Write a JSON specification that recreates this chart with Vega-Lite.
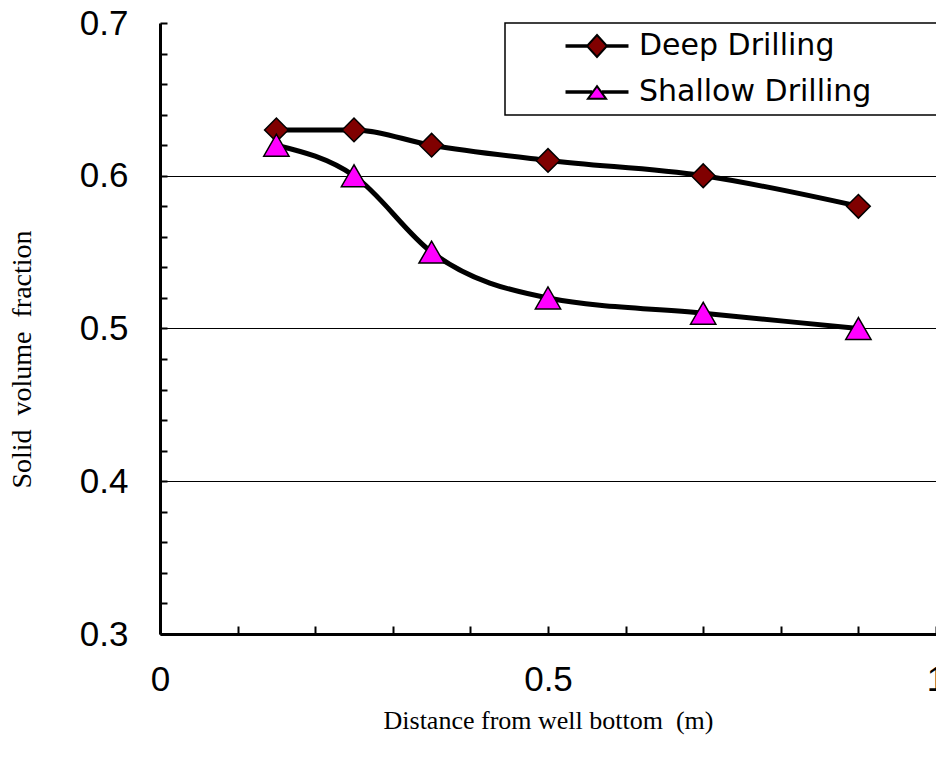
{
  "$schema": "https://vega.github.io/schema/vega-lite/v6.json",
  "width": 776,
  "height": 611,
  "autosize": {"type": "none"},
  "padding": {"left": 160, "top": 23, "right": 0, "bottom": 127},
  "background": "white",
  "config": {"view": {"stroke": null}, "legend": {"strokeWidth": 1.5}},
  "data": {
    "values": [
      {"series": "Deep Drilling", "x": 0.15, "y": 0.63},
      {"series": "Deep Drilling", "x": 0.25, "y": 0.63},
      {"series": "Deep Drilling", "x": 0.35, "y": 0.62},
      {"series": "Deep Drilling", "x": 0.5, "y": 0.61},
      {"series": "Deep Drilling", "x": 0.7, "y": 0.6},
      {"series": "Deep Drilling", "x": 0.9, "y": 0.58},
      {"series": "Shallow Drilling", "x": 0.15, "y": 0.62},
      {"series": "Shallow Drilling", "x": 0.25, "y": 0.6},
      {"series": "Shallow Drilling", "x": 0.35, "y": 0.55},
      {"series": "Shallow Drilling", "x": 0.5, "y": 0.52},
      {"series": "Shallow Drilling", "x": 0.7, "y": 0.51},
      {"series": "Shallow Drilling", "x": 0.9, "y": 0.5}
    ]
  },
  "encoding": {
    "x": {
      "field": "x", "type": "quantitative",
      "scale": {"domain": [0, 1], "nice": false, "zero": false},
      "axis": {
        "values": [0, 0.1, 0.2, 0.3, 0.4, 0.5, 0.6, 0.7, 0.8, 0.9, 1],
        "labelExpr": "datum.value == 0 ? '0' : datum.value == 0.5 ? '0.5' : datum.value == 1 ? '1' : ''",
        "labelFont": "Liberation Sans", "labelFontSize": 35, "labelColor": "black",
        "labelPadding": 36, "labelFlush": false, "labelOverlap": false,
        "tickSize": -8, "tickWidth": 2, "tickColor": "black",
        "domainColor": "black", "domainWidth": 3,
        "grid": false,
        "title": "Distance from well bottom\u00a0 (m)",
        "titleFont": "Liberation Serif", "titleFontSize": 26, "titleFontWeight": "normal", "titleColor": "black",
        "titleBaseline": "middle", "titleY": 86
      }
    },
    "y": {
      "field": "y", "type": "quantitative",
      "scale": {"domain": [0.3, 0.7], "nice": false, "zero": false},
      "axis": {
        "values": [0.3, 0.32, 0.34, 0.36, 0.38, 0.4, 0.42, 0.44, 0.46, 0.48, 0.5, 0.52, 0.54, 0.56, 0.58, 0.6, 0.62, 0.64, 0.66, 0.68, 0.7],
        "labelExpr": "abs(datum.value*10 - round(datum.value*10)) < 0.001 ? format(datum.value, '.1f') : ''",
        "labelFont": "Liberation Sans", "labelFontSize": 35, "labelColor": "black",
        "labelPadding": 39, "labelFlush": false, "labelOverlap": false,
        "tickSize": -7, "tickWidth": 2, "tickColor": "black",
        "domainColor": "black", "domainWidth": 3,
        "grid": true, "gridColor": "black", "gridWidth": 1,
        "gridOpacity": {"condition": {"test": "abs(datum.value*10 - round(datum.value*10)) < 0.001 && datum.value > 0.35 && datum.value < 0.65", "value": 1}, "value": 0},
        "title": "Solid\u00a0 volume\u00a0 fraction",
        "titleFont": "Liberation Serif", "titleFontSize": 28, "titleFontWeight": "normal", "titleColor": "black",
        "titleBaseline": "middle", "titleX": -138, "titleY": 336
      }
    }
  },
  "layer": [
    {
      "mark": {"type": "line", "interpolate": "monotone", "strokeWidth": 5, "strokeJoin": "round"},
      "encoding": {
        "stroke": {
          "field": "series", "type": "nominal",
          "scale": {"range": ["black", "black"]},
          "legend": {
            "orient": "none", "legendX": 345, "legendY": 0, "title": null,
            "symbolType": "M-4,0H4", "symbolSize": 248, "symbolStrokeWidth": 5,
            "labelFont": "DejaVu Sans", "labelFontSize": 30, "labelColor": "black",
            "labelExpr": "datum.label + '\u00a0\u00a0\u00a0\u00a0\u00a0\u00a0\u00a0\u00a0\u00a0\u00a0\u200b'",
            "labelLimit": 2000,
            "padding": 8, "rowPadding": 15,
            "symbolOffset": 69, "labelOffset": 27,
            "strokeColor": "black",
            "encode": {
              "symbols": {
                "update": {
                  "shape": {"signal": "datum.value === 'Deep Drilling' ? 'M-4,-0.1H-1.2M-4,0.1H-1.2M1.2,-0.1H4M1.2,0.1H4M0,-1.4L1.27,0L0,1.4L-1.27,0Z' : 'M-4,-0.1H-0.6M-4,0.1H-0.6M0.6,-0.1H4M0.6,0.1H4M0,-0.75L1.15,0.85L-1.15,0.85Z'"},
                  "fill": {"signal": "datum.value === 'Deep Drilling' ? '#800000' : '#ff00ff'"},
                  "stroke": {"value": "black"},
                  "strokeWidth": {"value": 2},
                  "opacity": {"value": 1}
                }
              }
            }
          }
        }
      }
    },
    {
      "mark": {"type": "point", "filled": true, "opacity": 1, "stroke": "black", "strokeWidth": 1.5},
      "encoding": {
        "fill": {
          "field": "series", "type": "nominal",
          "scale": {"domain": ["Deep Drilling", "Shallow Drilling"], "range": ["#800000", "#ff00ff"]},
          "legend": null
        },
        "shape": {
          "field": "series", "type": "nominal",
          "scale": {"domain": ["Deep Drilling", "Shallow Drilling"], "range": ["diamond", "triangle-up"]},
          "legend": null
        },
        "size": {
          "field": "series", "type": "nominal",
          "scale": {"domain": ["Deep Drilling", "Shallow Drilling"], "range": [560, 640]},
          "legend": null
        }
      }
    }
  ]
}
